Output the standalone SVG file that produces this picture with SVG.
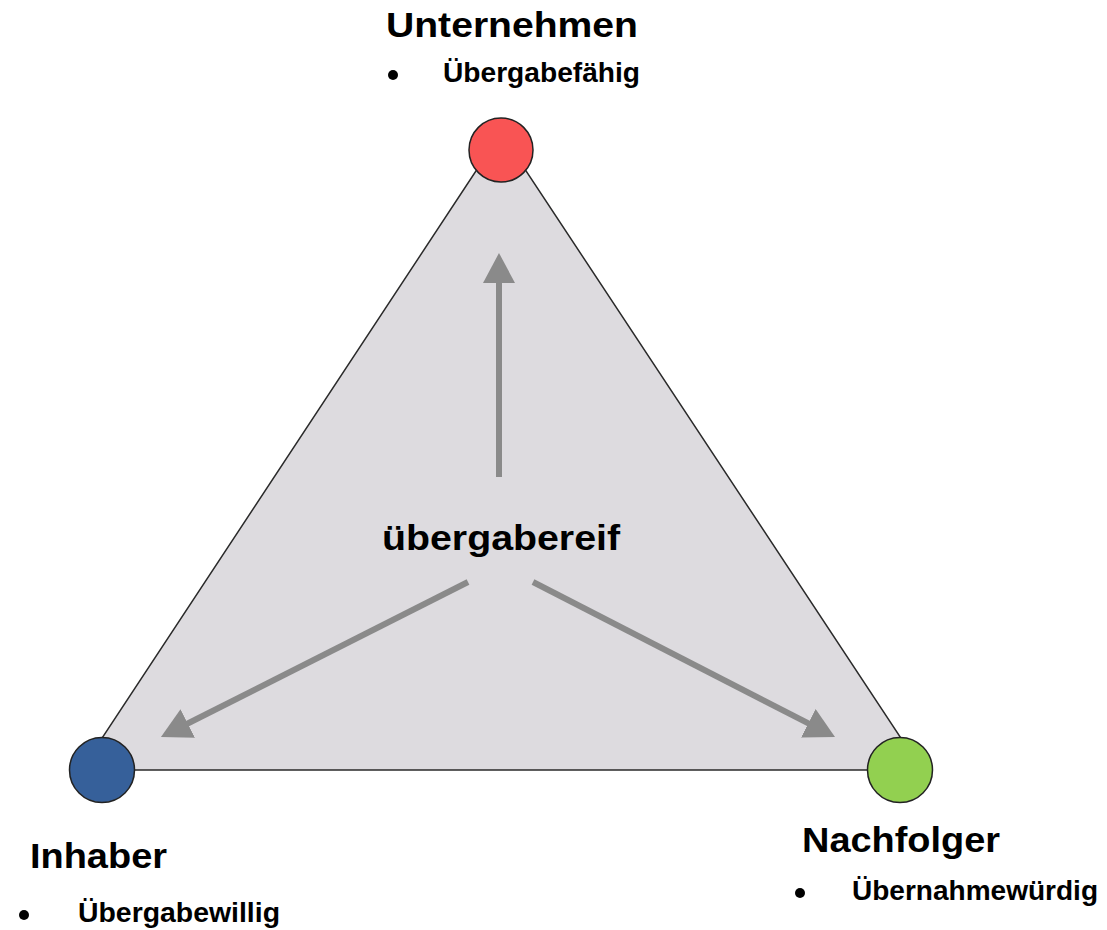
<svg xmlns="http://www.w3.org/2000/svg" width="1107" height="930" viewBox="0 0 1107 930">
<style>
.title{font-family:"Liberation Sans",Arial,sans-serif;font-weight:bold;font-size:35px;fill:#000}
.item{font-family:"Liberation Sans",Arial,sans-serif;font-weight:bold;font-size:27px;fill:#000}
.node{stroke:#222;stroke-width:1.5}
.arrow{stroke:#8a8a8a;stroke-width:6;fill:none;marker-end:url(#head)}
</style>
<defs>
<marker id="head" markerUnits="userSpaceOnUse" markerWidth="30" markerHeight="32" refX="10" refY="16" orient="auto" viewBox="0 0 30 32">
<path d="M0,0 L30,16 L0,32 z" fill="#8a8a8a"/>
</marker>
</defs>
<rect width="1107" height="930" fill="#fff"/>
<g id="triangle">
<polygon points="501,133 81,770 922,770" fill="#dddbdf" stroke="#2a2a2a" stroke-width="1.5"/>
</g>
<g id="connectors">
<line class="arrow" x1="499" y1="477" x2="499" y2="273"/>
<line class="arrow" x1="468" y1="582" x2="178.8" y2="728"/>
<line class="arrow" x1="533" y1="582" x2="817.2" y2="727.9"/>
</g>
<g id="center">
<text class="title" x="382" y="550" textLength="238" lengthAdjust="spacingAndGlyphs">übergabereif</text>
</g>
<g id="unternehmen">
<circle class="node" cx="501" cy="150" r="32" fill="#f95454"/>
<text class="title" x="386" y="37" textLength="252" lengthAdjust="spacingAndGlyphs">Unternehmen</text>
<circle cx="393" cy="75" r="5" fill="#000"/>
<text class="item" x="443" y="82" textLength="197" lengthAdjust="spacingAndGlyphs">Übergabefähig</text>
</g>
<g id="inhaber">
<circle class="node" cx="102" cy="770" r="32.5" fill="#36609a"/>
<text class="title" x="30" y="868" textLength="137" lengthAdjust="spacingAndGlyphs">Inhaber</text>
<circle cx="24" cy="915" r="5" fill="#000"/>
<text class="item" x="78" y="922" textLength="202" lengthAdjust="spacingAndGlyphs">Übergabewillig</text>
</g>
<g id="nachfolger">
<circle class="node" cx="900" cy="770" r="32.5" fill="#92d050"/>
<text class="title" x="802" y="852" textLength="198" lengthAdjust="spacingAndGlyphs">Nachfolger</text>
<circle cx="800" cy="893" r="5" fill="#000"/>
<text class="item" x="852" y="900" textLength="246" lengthAdjust="spacingAndGlyphs">Übernahmewürdig</text>
</g>
</svg>
